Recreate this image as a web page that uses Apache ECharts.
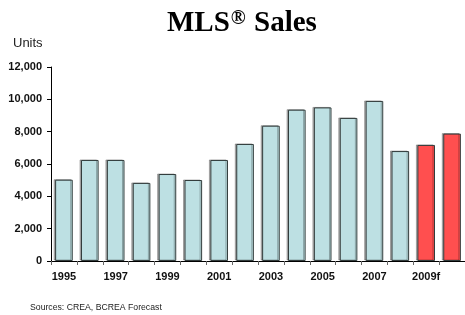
<!DOCTYPE html>
<html>
<head>
<meta charset="utf-8">
<script src="https://cdn.jsdelivr.net/npm/echarts@6/dist/echarts.min.js"></script>
<style>
  html, body { margin: 0; padding: 0; background: #fff; }
  #chart { width: 465px; height: 315px; }
</style>
</head>
<body>
<div id="chart"></div>
<script>
// chart data
const years = ['1995', '1996', '1997', '1998', '1999', '2000', '2001', '2002',
  '2003', '2004', '2005', '2006', '2007', '2008', '2009f', '2010f']
const sales = [5030, 6250, 6250, 4830, 5380, 5010, 6250, 7240,
  8370, 9360, 9500, 8850, 9900, 6800, 7180, 7880]
const forecastFrom = 14
const yTicks = [0, 2000, 4000, 6000, 8000, 10000, 12000]

const histColor = '#bde0e3'
const fcColor = '#ff4f4f'

const myChart = echarts.init(document.getElementById('chart'))

myChart.setOption({
  animation: false,
  title: {
    text: 'MLS{sup|®} Sales',
    left: 162,
    top: 4,
    textStyle: {
      fontFamily: 'Liberation Serif',
      fontWeight: 'bold',
      fontSize: 29,
      color: '#000',
      rich: {
        sup: {
          fontFamily: 'Liberation Serif',
          fontSize: 20,
          verticalAlign: 'top',
          padding: [0, 1, 10, 1],
          color: '#000'
        }
      }
    }
  },
  graphic: [
    {
      type: 'text', left: 13, top: 37,
      style: { text: 'Units', font: '13px Liberation Sans', fill: '#222' }
    },
    {
      type: 'text', left: 30, top: 303,
      style: { text: 'Sources: CREA, BCREA Forecast', font: '8.7px Liberation Sans', fill: '#222' }
    }
  ],
  grid: { left: 51, right: -2, top: 67, bottom: 54 },
  xAxis: {
    type: 'category',
    data: years,
    axisLine: { lineStyle: { color: '#000', width: 1 } },
    axisTick: { show: true, interval: 0, length: 4, lineStyle: { color: '#666' } },
    axisLabel: {
      interval: 1,
      margin: 10,
      fontFamily: 'Liberation Sans',
      fontWeight: 'bold',
      fontSize: 11,
      color: '#111'
    }
  },
  yAxis: {
    type: 'value',
    min: yTicks[0],
    max: yTicks[yTicks.length - 1],
    interval: 2000,
    splitLine: { show: false },
    axisLine: { show: true, lineStyle: { color: '#000', width: 1 } },
    axisTick: { show: true, length: 4, lineStyle: { color: '#000' } },
    axisLabel: {
      margin: 9,
      fontFamily: 'Liberation Sans',
      fontWeight: 'bold',
      fontSize: 11,
      color: '#111',
      formatter: v => v.toLocaleString('en-US')
    }
  },
  series: [{
    type: 'bar',
    data: sales.map((v, i) => ({
      value: v,
      itemStyle: { color: i >= forecastFrom ? fcColor : histColor }
    })),
    barWidth: '68%',
    itemStyle: {
      borderColor: '#333d3d',
      borderWidth: 1,
      shadowColor: 'rgba(0,0,0,0.28)',
      shadowBlur: 0,
      shadowOffsetX: -1.5,
      shadowOffsetY: -0.5
    }
  }]
})
</script>
</body>
</html>
